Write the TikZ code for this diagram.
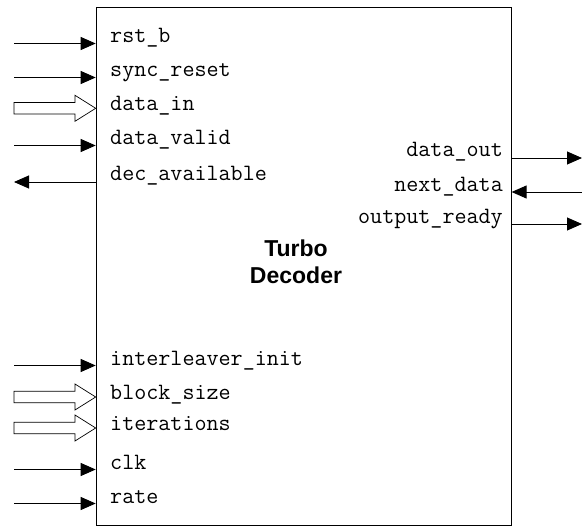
\documentclass[tikz,border=0pt]{standalone}
\usepackage{fontspec}
\setmainfont{Liberation Sans}
\usetikzlibrary{arrows.meta}
\begin{document}
\begin{tikzpicture}[x=1pt,y=-1pt,
        port/.style={inner sep=0,font=\ttfamily\fontsize{23.4}{27}\selectfont},
        wire/.style={line width=0.9pt,-{Triangle[length=15pt,width=13pt]}},
        bus/.style={line width=0.7pt,fill=white},
        ]
        \useasboundingbox (0,0) rectangle (582,527);
        \node[draw,line width=0.9pt,inner sep=0,minimum width=415,minimum height=517,anchor=north west] (dec) at (95.7,7.5) {};
        \node[font=\bfseries\fontsize{23}{27}\selectfont,align=center] (title) at (296,262) {Turbo\\Decoder};

        % inputs on the left
        \foreach \name/\y in {rst_b/43, sync_reset/77, data_valid/145, interleaver_init/365, clk/469, rate/503}{
            \node[port,anchor=base west] (\name) at (110,\y) {\detokenize\expandafter{\name}};
            \coordinate (\name-src) at (14,\y+0.5);
            \draw[wire] (\name-src) -- (dec.west |- \name-src);
        }
        % output on the left
        \node[port,anchor=base west] (dec_available) at (110,180) {dec\_available};
        \coordinate (dec_available-dst) at (14,182);
        \draw[wire] (dec.west |- dec_available-dst) -- (dec_available-dst);

        % bus inputs
        \foreach \name/\y in {data_in/108.3, block_size/397, iterations/428}{
            \node[port,anchor=base west] (\name) at (110,\y+2) {\detokenize\expandafter{\name}};
            \coordinate (\name-tip) at (dec.west |- 0,\y);
            \draw[bus] (14,\y-5.7) -- (75,\y-5.7) -- (75,\y-13) -- (\name-tip)
                -- (75,\y+13) -- (75,\y+5.7) -- (14,\y+5.7) -- cycle;
        }

        % right side
        \foreach \name/\y in {data_out/157, output_ready/223}{
            \node[port,anchor=base east] (\name) at (503,\y) {\detokenize\expandafter{\name}};
            \coordinate (\name-dst) at (582,\y+1);
            \draw[wire] (dec.east |- \name-dst) -- (\name-dst);
        }
        \node[port,anchor=base east] (next_data) at (503,191) {next\_data};
        \coordinate (next_data-src) at (582,192);
        \draw[wire] (next_data-src) -- (dec.east |- next_data-src);
\end{tikzpicture}
\end{document}
